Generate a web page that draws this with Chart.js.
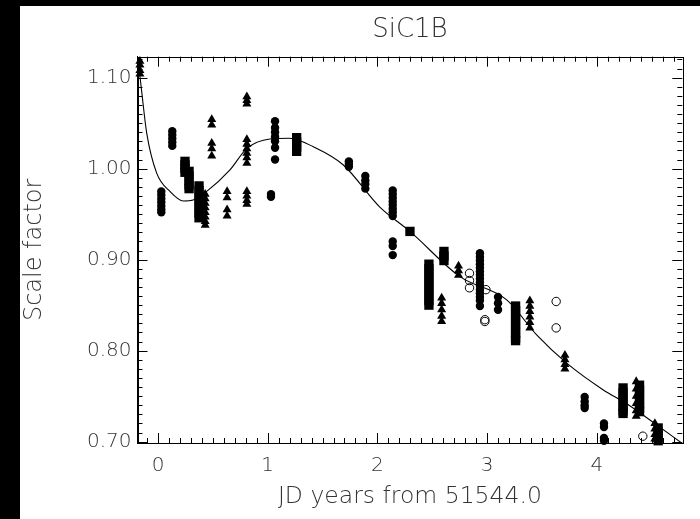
<!DOCTYPE html>
<html>
<head>
<meta charset="utf-8">
<title>SiC1B</title>
<script src="https://cdn.jsdelivr.net/npm/chart.js@4"></script>
<style>
  body { margin: 0; background: #000; }
  #wrap { position: absolute; left: 20px; top: 6px; width: 680px; height: 513px; background: #fff; }
</style>
</head>
<body>
<div id="wrap"><canvas id="myChart" width="680" height="513"></canvas></div>
<script>
    // tick labels
    var xTicks = [0, 1, 2, 3, 4];
    var yTicks = [0.70, 0.80, 0.90, 1.00, 1.10];

    // filled circles
    var circleX = [0.03,0.03,0.03,0.03,0.03,0.03,0.03,
                   0.13,0.13,0.13,0.13,0.13,
                   1.067,1.067,1.067,1.067,1.067,1.067,1.067,
                   1.03,1.03,
                   1.74,1.74,1.74,
                   1.89,1.89,1.89,1.89,
                   2.14,2.14,2.14,2.14,2.14,2.14,2.14,2.14,2.14,2.14,2.14,
                   2.935,2.935,2.935,2.935,2.935,2.935,2.935,2.935,2.935,2.935,2.935,2.935,2.935,2.935,2.935,
                   3.10,3.10,3.10,
                   3.89,3.89,3.89,3.89,
                   4.066,4.066,4.066,4.066];
    var circleY = [0.975,0.971,0.967,0.963,0.959,0.955,0.952,
                   1.041,1.037,1.033,1.029,1.025,
                   1.052,1.045,1.040,1.035,1.030,1.023,1.010,
                   0.972,0.969,
                   1.008,1.005,1.002,
                   0.992,0.987,0.983,0.978,
                   0.976,0.972,0.968,0.964,0.960,0.956,0.952,0.948,0.920,0.915,0.905,
                   0.907,0.903,0.899,0.895,0.891,0.887,0.883,0.879,0.875,0.871,0.867,0.863,0.859,0.855,0.849,
                   0.859,0.852,0.845,
                   0.749,0.744,0.740,0.737,
                   0.720,0.716,0.704,0.701];

    // filled triangles
    var triX = [-0.165,-0.165,-0.165,-0.165,
                0.43,0.43,0.43,0.43,0.43,0.43,0.43,0.43,
                0.49,0.49,0.49,0.49,0.49,
                0.63,0.63,0.63,0.63,
                0.81,0.81,0.81,0.81,0.81,0.81,0.81,0.81,0.81,0.81,0.81,0.81,0.81,
                2.586,2.586,2.586,2.586,2.586,
                2.74,2.74,2.74,
                3.39,3.39,3.39,3.39,3.39,3.39,
                3.71,3.71,3.71,3.71,
                4.36,4.36,4.36,4.36,4.36,4.36,
                4.53,4.53,4.53,4.53];
    var triY = [1.118,1.114,1.108,1.104,
                0.972,0.967,0.962,0.957,0.952,0.947,0.942,0.938,
                1.054,1.048,1.028,1.022,1.014,
                0.975,0.968,0.955,0.948,
                1.079,1.075,1.071,1.032,1.027,1.022,1.017,1.012,1.006,0.975,0.970,0.965,0.961,
                0.858,0.852,0.845,0.838,0.832,
                0.893,0.888,0.883,
                0.855,0.849,0.843,0.837,0.831,0.825,
                0.795,0.790,0.785,0.780,
                0.766,0.758,0.750,0.742,0.734,0.728,
                0.720,0.714,0.708,0.703];

    // filled squares
    var sqX = [0.246,0.246,0.246,0.246,
               0.283,0.283,0.283,0.283,0.283,
               0.374,0.374,0.374,0.374,0.374,0.374,0.374,0.374,
               1.264,1.264,1.264,1.264,
               2.297,
               2.47,2.47,2.47,2.47,2.47,2.47,2.47,2.47,2.47,2.47,
               2.607,2.607,2.607,
               3.26,3.26,3.26,3.26,3.26,3.26,3.26,3.26,3.26,
               4.24,4.24,4.24,4.24,4.24,4.24,4.24,
               4.39,4.39,4.39,4.39,4.39,4.39,4.39,
               4.56,4.56,4.56,4.56];
    var sqY = [1.008,1.004,1.000,0.996,
               0.997,0.992,0.987,0.982,0.978,
               0.981,0.976,0.971,0.966,0.961,0.956,0.951,0.946,
               1.034,1.029,1.024,1.019,
               0.931,
               0.895,0.890,0.885,0.880,0.875,0.870,0.865,0.860,0.855,0.850,
               0.909,0.904,0.899,
               0.849,0.844,0.839,0.834,0.829,0.824,0.819,0.814,0.811,
               0.759,0.754,0.749,0.744,0.739,0.734,0.731,
               0.762,0.757,0.752,0.747,0.742,0.737,0.733,
               0.715,0.710,0.705,0.701];

    // open circles
    var openX = [2.84,2.84,2.84, 2.99,2.98,2.98, 3.63,3.63, 4.42];
    var openY = [0.885,0.877,0.869, 0.867,0.834,0.832, 0.854,0.825, 0.706];

    // fitted curve
    var fitX = [-0.187,-0.15,-0.103,-0.012,0.109,0.231,0.32,0.444,0.656,0.809,1.02,1.20,1.416,1.69,2.02,2.297,2.753,3.179,3.452,3.726,4.06,4.27,4.485,4.78];
    var fitY = [1.125,1.086,1.039,0.995,0.975,0.9645,0.9656,0.975,0.9986,1.022,1.0326,1.0334,1.024,1.004,0.958,0.931,0.8813,0.8557,0.8173,0.7862,0.7568,0.742,0.7238,0.698];

    function pts(xs, ys) {
        return xs.map(function (v, i) { return {x: v, y: ys[i]}; });
    }

    var textColor = '#333';
    var fontName = "'DejaVu Sans', sans-serif";

    // inward ticks on all four sides + frame
    var frameTicks = {
        id: 'frameTicks',
        afterDatasetsDraw: function (chart) {
            var ctx = chart.ctx, a = chart.chartArea;
            var sx = chart.scales.x, sy = chart.scales.y;
            ctx.save();
            ctx.strokeStyle = '#000';
            ctx.lineWidth = 1;
            ctx.strokeRect(Math.round(a.left) + 0.5, Math.round(a.top) + 0.5,
                Math.round(a.right - a.left), Math.round(a.bottom - a.top));
            ctx.beginPath();
            for (var i = -1; i <= 47; i++) {
                var px = Math.round(sx.getPixelForValue(i / 10)) + 0.5;
                var len = (i % 10 === 0) ? 10 : 5;
                ctx.moveTo(px, a.bottom); ctx.lineTo(px, a.bottom - len);
                ctx.moveTo(px, a.top); ctx.lineTo(px, a.top + len);
            }
            for (var j = 70; j <= 112; j++) {
                var py = Math.round(sy.getPixelForValue(j / 100)) + 0.5;
                var l = (j % 10 === 0) ? 10 : 5;
                ctx.moveTo(a.left, py); ctx.lineTo(a.left + l, py);
                ctx.moveTo(a.right, py); ctx.lineTo(a.right - l, py);
            }
            ctx.stroke();
            ctx.restore();
        }
    };

    var ctx = document.getElementById('myChart').getContext('2d');
    var chart = new Chart(ctx, {
        type: 'scatter',
        data: {
            datasets: [
                {
                    type: 'line',
                    data: pts(fitX, fitY),
                    borderColor: '#000',
                    borderWidth: 1.1,
                    pointRadius: 0,
                    fill: false,
                    cubicInterpolationMode: 'monotone'
                },
                {
                    data: pts(circleX, circleY),
                    pointStyle: 'circle',
                    pointRadius: 4.2,
                    backgroundColor: '#000',
                    borderColor: '#000',
                    borderWidth: 0,
                    clip: false
                },
                {
                    data: pts(triX, triY),
                    pointStyle: 'triangle',
                    pointRadius: 5.2,
                    backgroundColor: '#000',
                    borderColor: '#000',
                    borderWidth: 0,
                    clip: false
                },
                {
                    data: pts(sqX, sqY),
                    pointStyle: 'rect',
                    pointRadius: 6.6,
                    backgroundColor: '#000',
                    borderColor: '#000',
                    borderWidth: 0,
                    clip: false
                },
                {
                    data: pts(openX, openY),
                    pointStyle: 'circle',
                    pointRadius: 4.2,
                    backgroundColor: 'rgba(0,0,0,0)',
                    borderColor: '#000',
                    borderWidth: 1,
                    clip: false
                }
            ]
        },
        options: {
            responsive: false,
            animation: false,
            events: [],
            layout: { padding: { left: 0, right: 17.7, top: 0, bottom: 0 } },
            plugins: {
                legend: { display: false },
                tooltip: { enabled: false },
                title: { display: false }
            },
            scales: {
                x: {
                    type: 'linear',
                    position: 'bottom',
                    min: -0.187,
                    max: 4.78,
                    afterBuildTicks: function (s) { s.ticks = xTicks.map(function (v) { return {value: v}; }); },
                    afterFit: function (s) { s.height = 76; },
                    grid: { display: false, drawTicks: false },
                    border: { display: true, color: '#000', width: 1 },
                    ticks: {
                        color: textColor,
                        padding: 11,
                        maxRotation: 0,
                        font: { family: fontName, size: 20, weight: 200 },
                        callback: function (v) { return String(v); }
                    },
                    title: {
                        display: true,
                        text: 'JD years from 51544.0',
                        color: textColor,
                        font: { family: fontName, size: 23.5, weight: 200 },
                        padding: { top: 0, bottom: 8 }
                    }
                },
                top: {
                    type: 'linear',
                    position: 'top',
                    min: -0.187,
                    max: 4.78,
                    afterFit: function (s) { s.height = 50.7; },
                    grid: { display: false, drawTicks: false },
                    border: { display: false },
                    ticks: { display: false },
                    title: {
                        display: true,
                        text: 'SiC1B',
                        color: textColor,
                        font: { family: fontName, size: 26, weight: 200 },
                        padding: { top: 9, bottom: 0 }
                    }
                },
                y: {
                    type: 'linear',
                    min: 0.6985,
                    max: 1.123,
                    afterBuildTicks: function (s) { s.ticks = yTicks.map(function (v) { return {value: v}; }); },
                    afterFit: function (s) { s.width = 117.5; },
                    grid: { display: false, drawTicks: false },
                    border: { display: true, color: '#000', width: 1 },
                    ticks: {
                        color: textColor,
                        padding: 6,
                        font: { family: fontName, size: 20, weight: 200 },
                        callback: function (v) { return v.toFixed(2); }
                    },
                    title: {
                        display: true,
                        text: 'Scale factor',
                        color: textColor,
                        font: { family: fontName, size: 24, weight: 200 },
                        padding: { top: 0, bottom: 0 }
                    }
                }
            }
        },
        plugins: [frameTicks]
    });
</script>
</body>
</html>
